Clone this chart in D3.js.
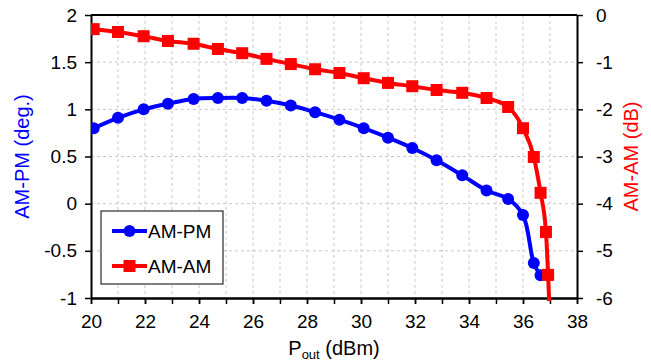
<!DOCTYPE html>
<html>
<head>
<meta charset="utf-8">
<script src="https://cdn.jsdelivr.net/npm/d3@7"></script>
<style>
  body { margin: 0; background: #fff; }
  svg { display: block; font-family: "Liberation Sans", Arial, sans-serif; }
</style>
</head>
<body>
<div id="chart"></div>
<script>
// AM-PM curve (left axis, degrees)
const poutPM = [20.1, 21.0, 21.95, 22.85, 23.8, 24.7, 25.6, 26.5, 27.4, 28.3, 29.2, 30.1,
    31.0, 31.9, 32.8, 33.75, 34.65, 35.45, 36.0, 36.4, 36.65];
const amPm = [0.80, 0.91, 1.00, 1.06, 1.11, 1.12, 1.12, 1.09, 1.04, 0.97, 0.89, 0.80,
    0.70, 0.59, 0.46, 0.30, 0.14, 0.05, -0.12, -0.63, -0.76];

// AM-AM curve (right axis, dB); last point falls below the axis and is clipped
const poutAM = [20.1, 21.0, 21.95, 22.85, 23.8, 24.7, 25.6, 26.5, 27.4, 28.3, 29.2, 30.1,
    31.0, 31.9, 32.8, 33.75, 34.65, 35.45, 36.0, 36.4, 36.65, 36.85, 36.93, 37.0];
const amAm = [-0.30, -0.36, -0.45, -0.55, -0.61, -0.72, -0.81, -0.93, -1.04, -1.15, -1.23, -1.34,
    -1.44, -1.51, -1.59, -1.65, -1.76, -1.95, -2.40, -3.01, -3.77, -4.60, -5.51, -6.5];

const xTicks = d3.range(20, 39, 2);
const xMinor = d3.range(20, 39, 1);
const yLeftTicks = [-1, -0.5, 0, 0.5, 1, 1.5, 2];
const yRightTicks = [-6, -5, -4, -3, -2, -1, 0];

const width = 651, height = 362;
const margin = { top: 15, right: 74, bottom: 64, left: 91 };
const iw = width - margin.left - margin.right;
const ih = height - margin.top - margin.bottom;

const svg = d3.select("#chart")
    .append("svg")
    .attr("width", width)
    .attr("height", height);

const x = d3.scaleLinear().domain([20, 38]).range([0, iw]);
const yL = d3.scaleLinear().domain([-1, 2]).range([ih, 0]);
const yR = d3.scaleLinear().domain([-6, 0]).range([ih, 0]);

const g = svg.append("g")
    .attr("transform", `translate(${margin.left},${margin.top})`);

svg.append("defs")
    .append("clipPath")
    .attr("id", "plot-clip")
    .append("rect")
    .attr("width", iw)
    .attr("height", ih + 3);

// grid
g.append("g")
    .selectAll("line")
    .data(xMinor.slice(1, -1))
    .join("line")
    .attr("x1", (d) => x(d))
    .attr("x2", (d) => x(d))
    .attr("y1", 0)
    .attr("y2", ih)
    .attr("stroke", "#c8c8c8")
    .attr("stroke-dasharray", "3,3");
g.append("g")
    .selectAll("line")
    .data(yLeftTicks.slice(1, -1))
    .join("line")
    .attr("x1", 0)
    .attr("x2", iw)
    .attr("y1", (d) => yL(d))
    .attr("y2", (d) => yL(d))
    .attr("stroke", "#c8c8c8")
    .attr("stroke-dasharray", "3,3");

// axes
function styleAxis(sel) {
    sel.select(".domain").attr("stroke", "#000").attr("stroke-width", 2);
    sel.selectAll(".tick line").attr("stroke", "#000").attr("stroke-width", 1.5);
    sel.selectAll(".tick text").attr("fill", "#000").style("font-size", "19px");
}

const xAxisMinor = g.append("g")
    .attr("transform", `translate(0,${ih})`)
    .call(d3.axisBottom(x).tickValues(xMinor).tickFormat("").tickSize(6).tickSizeOuter(0));
styleAxis(xAxisMinor);

const xAxis = g.append("g")
    .attr("transform", `translate(0,${ih})`)
    .call(d3.axisBottom(x).tickValues(xTicks).tickFormat(d3.format("d")).tickSize(6).tickPadding(11).tickSizeOuter(0));
styleAxis(xAxis);

const yAxisL = g.append("g")
    .call(d3.axisLeft(yL).tickValues(yLeftTicks).tickFormat((d) => String(d)).tickSize(6).tickPadding(8).tickSizeOuter(0));
styleAxis(yAxisL);

const yAxisR = g.append("g")
    .attr("transform", `translate(${iw},0)`)
    .call(d3.axisRight(yR).tickValues(yRightTicks).tickFormat((d) => String(d)).tickSize(6).tickPadding(13).tickSizeOuter(0));
styleAxis(yAxisR);

// top border
g.append("line")
    .attr("x1", 0).attr("x2", iw)
    .attr("y1", 0).attr("y2", 0)
    .attr("stroke", "#000")
    .attr("stroke-width", 2);

// series
const plot = g.append("g").attr("clip-path", "url(#plot-clip)");

const pmData = poutPM.map((p, i) => ({ x: p, y: amPm[i] }));
const amData = poutAM.map((p, i) => ({ x: p, y: amAm[i] }));

plot.append("path")
    .datum(amData)
    .attr("fill", "none")
    .attr("stroke", "#ff0000")
    .attr("stroke-width", 4)
    .attr("d", d3.line().x((d) => x(d.x)).y((d) => yR(d.y)).curve(d3.curveMonotoneX));
plot.append("path")
    .datum(pmData)
    .attr("fill", "none")
    .attr("stroke", "#0000ff")
    .attr("stroke-width", 4)
    .attr("d", d3.line().x((d) => x(d.x)).y((d) => yL(d.y)).curve(d3.curveCatmullRom));

plot.append("g")
    .selectAll("circle")
    .data(pmData)
    .join("circle")
    .attr("cx", (d) => x(d.x))
    .attr("cy", (d) => yL(d.y))
    .attr("r", 6)
    .attr("fill", "#0000ff");

plot.append("g")
    .selectAll("rect")
    .data(amData)
    .join("rect")
    .attr("x", (d) => x(d.x) - 6)
    .attr("y", (d) => yR(d.y) - 6)
    .attr("width", 12)
    .attr("height", 12)
    .attr("fill", "#ff0000");

// axis titles
svg.append("text")
    .attr("transform", `translate(29,${margin.top + ih / 2}) rotate(-90)`)
    .attr("text-anchor", "middle")
    .attr("fill", "#0000ff")
    .style("font-size", "20px")
    .text("AM-PM (deg.)");

svg.append("text")
    .attr("transform", `translate(638,${margin.top + ih / 2}) rotate(-90)`)
    .attr("text-anchor", "middle")
    .attr("fill", "#ff0000")
    .style("font-size", "20px")
    .text("AM-AM (dB)");

const xt = svg.append("text")
    .attr("x", margin.left + iw / 2)
    .attr("y", 355)
    .attr("text-anchor", "middle")
    .attr("fill", "#000")
    .style("font-size", "20px");
xt.append("tspan").text("P");
xt.append("tspan").attr("dy", 4).style("font-size", "13px").text("out");
xt.append("tspan").attr("dy", -4).text(" (dBm)");

// legend
const legend = svg.append("g").attr("transform", "translate(101,211)");
legend.append("rect")
    .attr("width", 122)
    .attr("height", 73)
    .attr("fill", "#fff")
    .attr("stroke", "#000")
    .attr("stroke-width", 1);

const items = [
    { name: "AM-PM", color: "#0000ff", shape: "circle", y: 20 },
    { name: "AM-AM", color: "#ff0000", shape: "square", y: 55 },
];
items.forEach((it) => {
    const row = legend.append("g").attr("transform", `translate(0,${it.y})`);
    row.append("line")
        .attr("x1", 11).attr("x2", 46)
        .attr("stroke", it.color)
        .attr("stroke-width", 4);
    if (it.shape === "circle") {
        row.append("circle").attr("cx", 28.5).attr("r", 6).attr("fill", it.color);
    } else {
        row.append("rect").attr("x", 22.5).attr("y", -6).attr("width", 12).attr("height", 12).attr("fill", it.color);
    }
    row.append("text")
        .attr("x", 47)
        .attr("y", 7)
        .attr("fill", "#000")
        .style("font-size", "19px")
        .text(it.name);
});
</script>
</body>
</html>
